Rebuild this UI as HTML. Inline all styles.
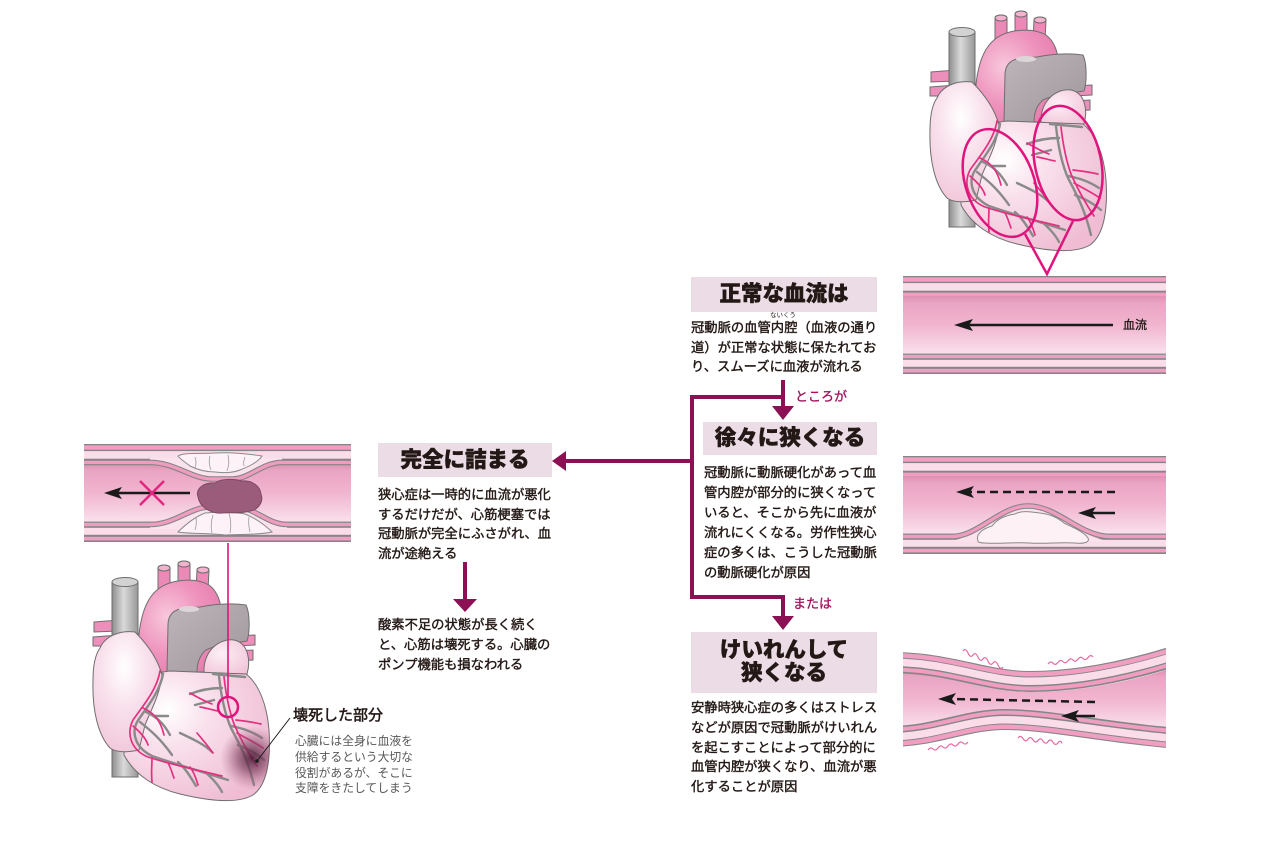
<!DOCTYPE html>
<html><head><meta charset="utf-8">
<style>
html,body{margin:0;padding:0;background:#fff;}
body{width:1280px;height:853px;position:relative;overflow:hidden;}
svg{position:absolute;left:0;top:0;}
.t{position:absolute;font-family:"Liberation Sans","Noto Sans CJK JP",sans-serif;color:#231815;white-space:nowrap;}
.b{font-size:13.3px;line-height:20px;font-weight:400;-webkit-text-stroke:0.4px #231815;}
.h{background:#ebdce5;text-align:center;font-size:21.5px;font-weight:900;color:#231815;box-sizing:border-box;-webkit-text-stroke:0.5px #231815;}
.p{color:#a3165f;font-size:13px;line-height:16px;font-weight:400;-webkit-text-stroke:0.35px #a3165f;}
</style></head><body>
<svg width="1280" height="853" viewBox="0 0 1280 853">
<defs>
  <linearGradient id="gLumen" x1="0" y1="0" x2="0" y2="1">
    <stop offset="0" stop-color="#dc92b3"/>
    <stop offset="0.12" stop-color="#eaa4c4"/>
    <stop offset="0.5" stop-color="#f1b5cf"/>
    <stop offset="1" stop-color="#f9e0ec"/>
  </linearGradient>
  <linearGradient id="gTube" x1="0" y1="0" x2="1" y2="0">
    <stop offset="0" stop-color="#8e8e8e"/>
    <stop offset="0.45" stop-color="#dadada"/>
    <stop offset="1" stop-color="#979797"/>
  </linearGradient>
  <radialGradient id="gAorta" cx="0.35" cy="0.4" r="0.7">
    <stop offset="0" stop-color="#f8c8dc"/>
    <stop offset="0.6" stop-color="#ee92bc"/>
    <stop offset="1" stop-color="#e77fae"/>
  </radialGradient>
  <linearGradient id="gPulm" x1="0" y1="0" x2="1" y2="1">
    <stop offset="0" stop-color="#bdb5b9"/>
    <stop offset="1" stop-color="#a0979c"/>
  </linearGradient>
  <radialGradient id="gLA" cx="0.4" cy="0.4" r="0.7">
    <stop offset="0" stop-color="#fdf0f5"/>
    <stop offset="1" stop-color="#f2c6da"/>
  </radialGradient>
  <radialGradient id="gVent" cx="0.3" cy="0.3" r="0.8">
    <stop offset="0" stop-color="#ffffff"/>
    <stop offset="0.35" stop-color="#f9e1ec"/>
    <stop offset="1" stop-color="#efbcd3"/>
  </radialGradient>
  <radialGradient id="gRA" cx="0.45" cy="0.3" r="0.8">
    <stop offset="0" stop-color="#ffffff"/>
    <stop offset="0.4" stop-color="#f9e2ed"/>
    <stop offset="1" stop-color="#f0c3d7"/>
  </radialGradient>
  <radialGradient id="gNec" cx="0.5" cy="0.5" r="0.5">
    <stop offset="0" stop-color="#4a1a35" stop-opacity="0.9"/>
    <stop offset="0.45" stop-color="#7a3d5c" stop-opacity="0.6"/>
    <stop offset="1" stop-color="#b06a8c" stop-opacity="0"/>
  </radialGradient>
  <clipPath id="cVent">
    <path d="M124,700 C140,681 155,672 170,671 L246,674 C259,684 267,705 269,730 C271,760 267,785 253,795 C236,805 205,800 180,794 C155,788 135,775 124,755 Z"/>
  </clipPath>
  <clipPath id="cV3"><rect x="903" y="600" width="263" height="200"/></clipPath>
</defs>

<!-- ===== TOP STRAIGHT VESSEL ===== -->
<g transform="translate(903,276)">
  <rect x="0" y="0" width="263" height="98" fill="#858585"/>
  <rect x="0" y="1.3" width="263" height="4.4" fill="#f19ec3"/>
  <rect x="0" y="7.1" width="263" height="7.6" fill="#fbdde9"/>
  <rect x="0" y="16.6" width="263" height="3.6" fill="#ef9dc1"/>
  <rect x="0" y="20" width="263" height="57.6" fill="url(#gLumen)"/>
  <rect x="0" y="78.8" width="263" height="3.4" fill="#ef9dc1"/>
  <rect x="0" y="83.8" width="263" height="7" fill="#fbdde9"/>
  <rect x="0" y="92.8" width="263" height="3.6" fill="#f19ec3"/>
</g>
<line x1="1113" y1="325" x2="968" y2="325" stroke="#1a1a1a" stroke-width="2.5"/>
<polygon points="954,325 973,319 969,325 973,331" fill="#1a1a1a"/>

<!-- ===== MIDDLE VESSEL ===== -->
<g transform="translate(903,456)">
  <rect x="0" y="0" width="263" height="98" fill="#858585"/>
  <rect x="0" y="1.3" width="263" height="4.4" fill="#f19ec3"/>
  <rect x="0" y="7.1" width="263" height="7.6" fill="#fbdde9"/>
  <rect x="0" y="16.6" width="263" height="3.6" fill="#ef9dc1"/>
  <rect x="0" y="20" width="263" height="57.6" fill="url(#gLumen)"/>
  <rect x="0" y="78.8" width="263" height="3.4" fill="#ef9dc1"/>
  <rect x="0" y="83.8" width="263" height="7" fill="#fbdde9"/>
  <rect x="0" y="92.8" width="263" height="3.6" fill="#f19ec3"/>
</g>
<path d="M945,541.5 C975,541.5 998,506 1028,506 C1058,506 1082,541.5 1115,541.5 Z" fill="#fbe3ee"/>
<path d="M903,536.5 L952,536.5 C978,536.5 1000,506 1028,506 C1058,506 1080,536.5 1110,536.5 L1166,536.5" fill="none" stroke="#858585" stroke-width="5.6"/>
<path d="M903,536.5 L952,536.5 C978,536.5 1000,506 1028,506 C1058,506 1080,536.5 1110,536.5 L1166,536.5" fill="none" stroke="#ee9cc0" stroke-width="3.4"/>
<path d="M978,541 C975,533 985,528 992,526 C998,518 1008,515 1015,514 C1022,510 1032,512 1040,513 C1050,514 1058,518 1064,523 C1074,528 1084,532 1088,538 C1090,542 1085,544 1075,543 C1060,542 1045,544 1030,543 C1015,542 1000,544 985,543 C980,543 978,542 978,541 Z" fill="#fdf1f6" stroke="#8a8a8a" stroke-width="1"/>
<line x1="1115" y1="492" x2="970" y2="492" stroke="#1a1a1a" stroke-width="2.5" stroke-dasharray="8,5"/>
<polygon points="956,492 974,486 970,492 974,498" fill="#1a1a1a"/>
<line x1="1115" y1="513" x2="1090" y2="513" stroke="#1a1a1a" stroke-width="2.5"/>
<polygon points="1078,513 1096,507 1092,513 1096,519" fill="#1a1a1a"/>

<!-- ===== BOTTOM CURVED VESSEL ===== -->
<g clip-path="url(#cV3)">
  <path d="M903,672 C950,672 985,692 1030,692 C1080,692 1130,681 1166,670 L1166,728 C1110,724 1050,709 1005,709 C965,709 935,726 903,726 Z" fill="url(#gLumen)"/>
  <g fill="none">
    <path transform="translate(0,10.5)" d="M890,652 C950,652 985,671 1030,671 C1080,671 1130,660 1180,644" stroke="#858585" stroke-width="21"/>
    <path transform="translate(0,3.25)" d="M890,652 C950,652 985,671 1030,671 C1080,671 1130,660 1180,644" stroke="#f19ec3" stroke-width="4.5"/>
    <path transform="translate(0,10.25)" d="M890,652 C950,652 985,671 1030,671 C1080,671 1130,660 1180,644" stroke="#fbdde9" stroke-width="7.5"/>
    <path transform="translate(0,17.5)" d="M890,652 C950,652 985,671 1030,671 C1080,671 1130,660 1180,644" stroke="#ef9dc1" stroke-width="4"/>
    <path transform="translate(0,-10.5)" d="M890,747 C935,747 965,730 1005,730 C1050,730 1110,744 1180,749" stroke="#858585" stroke-width="21"/>
    <path transform="translate(0,-3.25)" d="M890,747 C935,747 965,730 1005,730 C1050,730 1110,744 1180,749" stroke="#f19ec3" stroke-width="4.5"/>
    <path transform="translate(0,-10.25)" d="M890,747 C935,747 965,730 1005,730 C1050,730 1110,744 1180,749" stroke="#fbdde9" stroke-width="7.5"/>
    <path transform="translate(0,-17.5)" d="M890,747 C935,747 965,730 1005,730 C1050,730 1110,744 1180,749" stroke="#ef9dc1" stroke-width="4"/>
  </g>
</g>
<g fill="none" stroke="#e86aa3" stroke-width="1.2">
  <path d="M963,651 q2.5,-3.5 5,2 t5,2 t5,2 t5,2 t5,2 t5,2 t5,2 t5,2"/>
  <path d="M1048,664 q2.5,-3.5 5,-0.8 t5,-0.8 t5,-0.8 t5,-0.8 t5,-0.8 t5,-0.8 t5,-0.8 t5,-0.8 t5,-0.8"/>
  <path d="M928,750 q2.5,-3.5 5,-1 t5,-1 t5,-1 t5,-1 t5,-1 t5,-1 t5,-1 t5,-1"/>
  <path d="M1018,738 q2.5,-3.5 5,0.6 t5,0.6 t5,0.6 t5,0.6 t5,0.6 t5,0.6 t5,0.6 t5,0.6 t4,0.6"/>
</g>
<line x1="1095" y1="702" x2="952" y2="699" stroke="#1a1a1a" stroke-width="2.5" stroke-dasharray="8,5"/>
<polygon points="938,699 956,693 952,699 956,705" fill="#1a1a1a"/>
<line x1="1095" y1="716" x2="1074" y2="716" stroke="#1a1a1a" stroke-width="2.5"/>
<polygon points="1061,716 1079,710 1075,716 1079,722" fill="#1a1a1a"/>

<!-- ===== LEFT VESSEL ===== -->
<g transform="translate(84,444)">
  <rect x="0" y="0" width="267" height="98" fill="#858585"/>
  <rect x="0" y="1.3" width="267" height="4.4" fill="#f19ec3"/>
  <rect x="0" y="7.1" width="267" height="7.6" fill="#fbdde9"/>
  <rect x="0" y="16.6" width="267" height="3.6" fill="#ef9dc1"/>
  <rect x="0" y="20" width="267" height="57.6" fill="url(#gLumen)"/>
  <rect x="0" y="78.8" width="267" height="3.4" fill="#ef9dc1"/>
  <rect x="0" y="83.8" width="267" height="7" fill="#fbdde9"/>
  <rect x="0" y="92.8" width="267" height="3.6" fill="#f19ec3"/>
</g>
<path d="M150,462.4 C175,462.4 192,479 212,479 L232,479 C250,479 262,462.4 282,462.4 L282,458 L150,458 Z" fill="#fbe3ee"/>
<path d="M84,462.4 L150,462.4 C175,462.4 192,479 212,479 L232,479 C250,479 262,462.4 282,462.4 L351,462.4" fill="none" stroke="#858585" stroke-width="5.6"/>
<path d="M84,462.4 L150,462.4 C175,462.4 192,479 212,479 L232,479 C250,479 262,462.4 282,462.4 L351,462.4" fill="none" stroke="#ee9cc0" stroke-width="3.4"/>
<path d="M150,524.5 C175,524.5 190,507 210,507 L235,507 C255,507 267,524.5 287,524.5 L287,529 L150,529 Z" fill="#fbe3ee"/>
<path d="M84,524.5 L150,524.5 C175,524.5 190,507 210,507 L235,507 C255,507 267,524.5 287,524.5 L351,524.5" fill="none" stroke="#858585" stroke-width="5.6"/>
<path d="M84,524.5 L150,524.5 C175,524.5 190,507 210,507 L235,507 C255,507 267,524.5 287,524.5 L351,524.5" fill="none" stroke="#ee9cc0" stroke-width="3.4"/>
<path d="M178,456 C185,452 200,454 215,453 C230,452 250,454 262,456 C258,462 250,466 240,470 C232,473 225,473 215,472 C205,472 198,470 190,466 C185,462 180,459 178,456 Z" fill="#fdf2f7" stroke="#8a8a8a" stroke-width="1"/>
<path d="M178,532 C190,534 210,533 225,535 C240,534 260,535 272,532 C265,525 255,518 245,514 C235,512 215,512 205,513 C195,517 185,525 178,532 Z" fill="#fdf2f7" stroke="#8a8a8a" stroke-width="1"/>
<g fill="none" stroke="#9a9a9a" stroke-width="0.8">
  <path d="M195,457 q2,5 0,11"/><path d="M210,456 q-2,7 1,14"/><path d="M228,455 q2,8 -1,16"/><path d="M245,457 q-2,5 -1,9"/>
  <path d="M195,530 q2,-6 1,-12"/><path d="M212,533 q-2,-9 1,-18"/><path d="M230,533 q2,-10 -1,-20"/><path d="M250,532 q-2,-8 -1,-15"/>
</g>
<path d="M198,497 C195,488 205,482 215,483 C222,478 235,479 242,481 C252,480 260,486 261,494 C264,502 258,510 250,511 C240,514 230,512 222,513 C212,514 200,508 198,497 Z" fill="#9b5c7c" stroke="#7d4a63" stroke-width="1"/>
<line x1="190" y1="493" x2="118" y2="493" stroke="#1a1a1a" stroke-width="2.5"/>
<polygon points="104,493 122,487 118,493 122,499" fill="#1a1a1a"/>
<g stroke="#e3257f" stroke-width="2.5"><line x1="140" y1="481" x2="164" y2="505"/><line x1="164" y1="481" x2="140" y2="505"/></g>

<!-- ===== HEART (left) ===== -->
<g stroke="#6e6e6e" stroke-width="1">
  <path d="M94,622 L119,620 L119,631 L94,632 Z" fill="#ec90bb"/>
  <path d="M93,637 L119,635 L119,646 L93,646 Z" fill="#ec90bb"/>
  <path d="M236,636 L255,635 L255,645 L236,646 Z" fill="#ec90bb"/>
  <path d="M236,651 L253,650 L253,660 L236,661 Z" fill="#ec90bb"/>
  <rect x="112" y="582" width="26" height="195" fill="url(#gTube)"/>
  <ellipse cx="125" cy="582" rx="13" ry="4.5" fill="#d2d2d2"/>
  <path d="M158,590 L158,568 A6,3 0 0 1 170,568 L170,590 Z" fill="#ec8ab7"/>
  <ellipse cx="164" cy="568" rx="6" ry="3" fill="#f3b3cf"/>
  <path d="M178,588 L178,564 A6,3 0 0 1 190,564 L190,588 Z" fill="#ec8ab7"/>
  <ellipse cx="184" cy="564" rx="6" ry="3" fill="#f3b3cf"/>
  <path d="M196,590 L197,570 A6,3 0 0 1 209,570 L208,590 Z" fill="#ec8ab7"/>
  <ellipse cx="203" cy="570" rx="6" ry="3" fill="#f3b3cf"/>
  <path d="M138,672 C137,640 139,605 157,590 C170,579 195,577 209,585 C221,594 223,612 221,630 L205,672 Z" fill="url(#gAorta)"/>
  <path d="M167,672 L168,625 C168,614 175,609 185,608 L200,607 C215,604 232,603 246,605 C250,613 250,632 247,641 C233,643 216,645 206,650 C199,656 197,664 197,672 Z" fill="url(#gPulm)"/>
  <ellipse cx="189" cy="609" rx="10" ry="3" fill="#dcd6d9" stroke="none"/>
  <path d="M204,673 C203,652 218,638 234,640 C248,643 251,660 247,674 Z" fill="url(#gLA)"/>
  <path d="M124,700 C140,681 155,672 170,671 L246,674 C259,684 267,705 269,730 C271,760 267,785 253,795 C236,805 205,800 180,794 C155,788 135,775 124,755 Z" fill="url(#gVent)"/>
  <path d="M100,648 C105,636 120,630 135,632 C148,645 158,660 162,675 C160,695 150,712 145,725 L139,750 C126,753 115,752 110,748 C98,735 92,710 93,680 C93,665 95,655 100,648 Z" fill="url(#gRA)"/>
  <g fill="none" stroke="#8a8a8a" stroke-width="2.4" stroke-linecap="round">
    <path d="M163,674 C160,692 146,708 137,722 C131,734 136,748 152,756 C175,764 200,771 228,780"/>
    <path d="M146,712 C155,716 163,722 170,735"/>
    <path d="M140,722 C150,730 160,738 172,755"/>
    <path d="M155,716 L168,716"/>
    <path d="M178,762 C185,768 190,776 196,786"/>
    <path d="M205,772 C212,778 218,784 222,792"/>
    <path d="M219,676 C221,695 224,712 231,728 C240,745 248,760 254,785"/>
    <path d="M213,674 L245,677"/>
    <path d="M190,694 C200,690 210,688 222,688"/>
    <path d="M195,705 L214,700"/>
    <path d="M231,726 C240,728 250,730 262,738"/>
    <path d="M238,745 C246,748 255,752 264,760"/>
    <path d="M180,733 C195,740 205,745 212,752"/>
  </g>
  <g fill="none" stroke="#e3307f" stroke-width="1.7" stroke-linecap="round">
    <path d="M160,671 C157,690 142,707 133,720 C126,734 131,750 148,757 C172,765 198,770 222,776"/>
    <path d="M143,708 C152,712 160,718 164,735"/>
    <path d="M133,726 C140,732 146,738 148,745"/>
    <path d="M152,758 C152,766 151,772 152,782"/>
    <path d="M168,763 C171,768 172,773 174,778"/>
    <path d="M190,767 C194,772 196,778 198,785"/>
    <path d="M224,677 C226,695 229,710 234,724 C241,740 249,754 257,766"/>
    <path d="M190,693 C197,697 204,701 212,704"/>
    <path d="M200,707 C207,708 212,710 218,711"/>
    <path d="M197,733 C203,740 208,746 213,753"/>
    <path d="M236,720 C245,721 252,722 261,724"/>
    <path d="M237,733 C246,738 254,742 263,748"/>
  </g>
</g>
<g clip-path="url(#cVent)"><circle cx="252" cy="758" r="32" fill="url(#gNec)"/></g>
<line x1="228" y1="543" x2="228" y2="697" stroke="#e0147c" stroke-width="1.6"/>
<circle cx="228" cy="707" r="10" fill="none" stroke="#e0147c" stroke-width="2.5"/>
<line x1="257" y1="761" x2="290" y2="718" stroke="#1a1a1a" stroke-width="1"/>
<circle cx="257" cy="761" r="1.8" fill="#1a1a1a"/>

<!-- ===== HEART (right) ===== -->
<g transform="translate(837,-550)" stroke="#6e6e6e" stroke-width="1">
  <path d="M94,622 L119,620 L119,631 L94,632 Z" fill="#ec90bb"/>
  <path d="M93,637 L119,635 L119,646 L93,646 Z" fill="#ec90bb"/>
  <path d="M236,636 L255,635 L255,645 L236,646 Z" fill="#ec90bb"/>
  <path d="M236,651 L253,650 L253,660 L236,661 Z" fill="#ec90bb"/>
  <rect x="112" y="582" width="26" height="195" fill="url(#gTube)"/>
  <ellipse cx="125" cy="582" rx="13" ry="4.5" fill="#d2d2d2"/>
  <path d="M158,590 L158,568 A6,3 0 0 1 170,568 L170,590 Z" fill="#ec8ab7"/>
  <ellipse cx="164" cy="568" rx="6" ry="3" fill="#f3b3cf"/>
  <path d="M178,588 L178,564 A6,3 0 0 1 190,564 L190,588 Z" fill="#ec8ab7"/>
  <ellipse cx="184" cy="564" rx="6" ry="3" fill="#f3b3cf"/>
  <path d="M196,590 L197,570 A6,3 0 0 1 209,570 L208,590 Z" fill="#ec8ab7"/>
  <ellipse cx="203" cy="570" rx="6" ry="3" fill="#f3b3cf"/>
  <path d="M138,672 C137,640 139,605 157,590 C170,579 195,577 209,585 C221,594 223,612 221,630 L205,672 Z" fill="url(#gAorta)"/>
  <path d="M167,672 L168,625 C168,614 175,609 185,608 L200,607 C215,604 232,603 246,605 C250,613 250,632 247,641 C233,643 216,645 206,650 C199,656 197,664 197,672 Z" fill="url(#gPulm)"/>
  <ellipse cx="189" cy="609" rx="10" ry="3" fill="#dcd6d9" stroke="none"/>
  <path d="M204,673 C203,652 218,638 234,640 C248,643 251,660 247,674 Z" fill="url(#gLA)"/>
  <path d="M124,700 C140,681 155,672 170,671 L246,674 C259,684 267,705 269,730 C271,760 267,785 253,795 C236,805 205,800 180,794 C155,788 135,775 124,755 Z" fill="url(#gVent)"/>
  <path d="M100,648 C105,636 120,630 135,632 C148,645 158,660 162,675 C160,695 150,712 145,725 L139,750 C126,753 115,752 110,748 C98,735 92,710 93,680 C93,665 95,655 100,648 Z" fill="url(#gRA)"/>
  <g fill="none" stroke="#8a8a8a" stroke-width="2.4" stroke-linecap="round">
    <path d="M163,674 C160,692 146,708 137,722 C131,734 136,748 152,756 C175,764 200,771 228,780"/>
    <path d="M146,712 C155,716 163,722 170,735"/>
    <path d="M140,722 C150,730 160,738 172,755"/>
    <path d="M155,716 L168,716"/>
    <path d="M178,762 C185,768 190,776 196,786"/>
    <path d="M205,772 C212,778 218,784 222,792"/>
    <path d="M219,676 C221,695 224,712 231,728 C240,745 248,760 254,785"/>
    <path d="M213,674 L245,677"/>
    <path d="M190,694 C200,690 210,688 222,688"/>
    <path d="M195,705 L214,700"/>
    <path d="M231,726 C240,728 250,730 262,738"/>
    <path d="M238,745 C246,748 255,752 264,760"/>
    <path d="M180,733 C195,740 205,745 212,752"/>
  </g>
  <g fill="none" stroke="#e3307f" stroke-width="1.7" stroke-linecap="round">
    <path d="M160,671 C157,690 142,707 133,720 C126,734 131,750 148,757 C172,765 198,770 222,776"/>
    <path d="M143,708 C152,712 160,718 164,735"/>
    <path d="M133,726 C140,732 146,738 148,745"/>
    <path d="M152,758 C152,766 151,772 152,782"/>
    <path d="M168,763 C171,768 172,773 174,778"/>
    <path d="M190,767 C194,772 196,778 198,785"/>
    <path d="M224,677 C226,695 229,710 234,724 C241,740 249,754 257,766"/>
    <path d="M190,693 C197,697 204,701 212,704"/>
    <path d="M200,707 C207,708 212,710 218,711"/>
    <path d="M197,733 C203,740 208,746 213,753"/>
    <path d="M236,720 C245,721 252,722 261,724"/>
    <path d="M237,733 C246,738 254,742 263,748"/>
  </g>
</g>
<g fill="none" stroke="#e0147c" stroke-width="2.5">
  <ellipse cx="1000" cy="183" rx="34" ry="56" transform="rotate(-20 1000 183)"/>
  <ellipse cx="1068" cy="163" rx="33" ry="58" transform="rotate(-12 1068 163)"/>
  <polyline points="1025,234 1047,274 1073,221" stroke-linejoin="miter"/>
</g>

<!-- ===== CONNECTORS ===== -->
<g fill="none" stroke="#8c1154" stroke-width="4">
  <path d="M783,380 V408"/>
  <path d="M783,397 H692 V597 H783 V618"/>
  <path d="M692,461 H564"/>
  <path d="M465,562 V601"/>
</g>
<g fill="#8c1154">
  <polygon points="772,406 794,406 783,420"/>
  <polygon points="772,616 794,616 783,630"/>
  <polygon points="552,461 566,451 566,471"/>
  <polygon points="453,599 477,599 465,612"/>
</g>
</svg>

<!-- ===== TEXT ===== -->
<div class="t h" style="left:691px;top:277px;width:186px;height:35px;line-height:35px;">正常な血流は</div>
<div class="t" style="left:770px;top:312px;font-size:6.5px;line-height:8px;">ないくう</div>
<div class="t b" style="left:691px;top:318px;line-height:19.6px;">冠動脈の血管内腔（血液の通り<br>道）が正常な状態に保たれてお<br>り、スムーズに血液が流れる</div>
<div class="t p" style="left:795px;top:389px;">ところが</div>

<div class="t h" style="left:703px;top:422px;width:174px;height:33px;line-height:33px;">徐々に狭くなる</div>
<div class="t b" style="left:704px;top:463px;">冠動脈に動脈硬化があって血<br>管内腔が部分的に狭くなって<br>いると、そこから先に血液が<br>流れにくくなる。労作性狭心<br>症の多くは、こうした冠動脈<br>の動脈硬化が原因</div>
<div class="t p" style="left:793px;top:596px;">または</div>

<div class="t h" style="left:691px;top:632px;width:186px;height:61px;line-height:23px;padding-top:7px;">けいれんして<br>狭くなる</div>
<div class="t b" style="left:691px;top:698px;line-height:19.8px;">安静時狭心症の多くはストレス<br>などが原因で冠動脈がけいれん<br>を起こすことによって部分的に<br>血管内腔が狭くなり、血流が悪<br>化することが原因</div>

<div class="t h" style="left:378px;top:443px;width:174px;height:34px;line-height:34px;">完全に詰まる</div>
<div class="t b" style="left:378px;top:485px;line-height:19.7px;">狭心症は一時的に血流が悪化<br>するだけだが、心筋梗塞では<br>冠動脈が完全にふさがれ、血<br>流が途絶える</div>
<div class="t b" style="left:378px;top:615px;">酸素不足の状態が長く続く<br>と、心筋は壊死する。心臓の<br>ポンプ機能も損なわれる</div>

<div class="t" style="left:1123px;top:317px;font-size:12px;line-height:16px;-webkit-text-stroke:0.3px #231815;">血流</div>

<div class="t" style="left:293px;top:707px;font-size:15px;line-height:18px;-webkit-text-stroke:0.5px #231815;">壊死した部分</div>
<div class="t" style="left:295px;top:734px;font-size:11.8px;line-height:15.8px;color:#595757;">心臓には全身に血液を<br>供給するという大切な<br>役割があるが、そこに<br>支障をきたしてしまう</div>
</body></html>
